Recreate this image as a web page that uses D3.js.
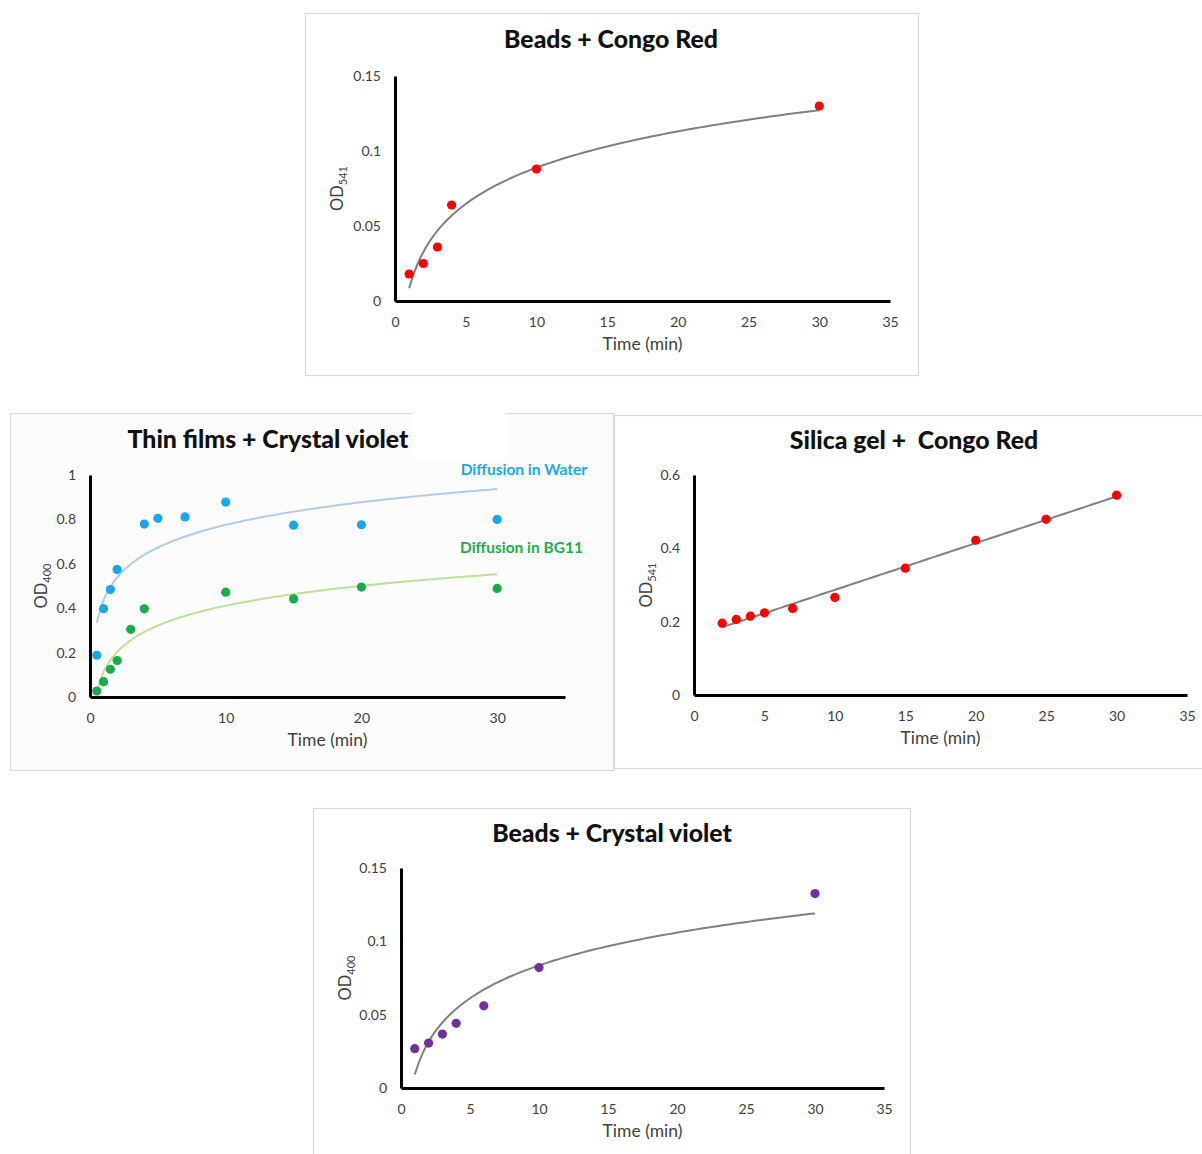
<!DOCTYPE html>
<html>
<head>
<meta charset="utf-8">
<script src="https://cdn.jsdelivr.net/npm/d3@7"></script>
<style>
  body { margin: 0; background: #fff; }
  text { font-family: Lato, "Open Sans", sans-serif; }
</style>
</head>
<body>
<svg id="chart" width="1202" height="1154"></svg>
<script>
// Beads + Congo Red
const beadsCongoTime = [1, 2, 3, 4, 10, 30];
const beadsCongoOD = [0.018, 0.025, 0.036, 0.064, 0.088, 0.130];

// Thin films + Crystal violet
const filmWaterTime = [0.5, 1, 1.5, 2, 4, 5, 7, 10, 15, 20, 30];
const filmWaterOD = [0.188, 0.398, 0.484, 0.574, 0.779, 0.805, 0.811, 0.878, 0.774, 0.776, 0.800];
const filmBg11Time = [0.5, 1, 1.5, 2, 3, 4, 10, 15, 20, 30];
const filmBg11OD = [0.027, 0.069, 0.125, 0.164, 0.305, 0.397, 0.472, 0.442, 0.495, 0.489];

// Silica gel + Congo Red
const silicaTime = [2, 3, 4, 5, 7, 10, 15, 20, 25, 30];
const silicaOD = [0.196, 0.206, 0.215, 0.224, 0.236, 0.266, 0.346, 0.422, 0.479, 0.545];

// Beads + Crystal violet
const beadsVioletTime = [1, 2, 3, 4, 6, 10, 30];
const beadsVioletOD = [0.0268, 0.0306, 0.0368, 0.0441, 0.056, 0.0821, 0.1326];

const xTicks5 = [0, 5, 10, 15, 20, 25, 30, 35];
const xTicks10 = [0, 10, 20, 30];
const yTicksBeads = [0, 0.05, 0.1, 0.15];
const yTicksFilm = [0, 0.2, 0.4, 0.6, 0.8, 1];
const yTicksSilica = [0, 0.2, 0.4, 0.6];

const svg = d3.select('#chart');

// least squares trendlines, like the spreadsheet ones
function logFit(xs, ys) {
    const lx = xs.map(Math.log);
    const mx = d3.mean(lx), my = d3.mean(ys);
    const sxy = d3.sum(lx, (v, i) => (v - mx) * (ys[i] - my));
    const sxx = d3.sum(lx, v => (v - mx) * (v - mx));
    const a = sxy / sxx, b = my - a * mx;
    return x => a * Math.log(x) + b;
}
function linFit(xs, ys) {
    const mx = d3.mean(xs), my = d3.mean(ys);
    const sxy = d3.sum(xs, (v, i) => (v - mx) * (ys[i] - my));
    const sxx = d3.sum(xs, v => (v - mx) * (v - mx));
    const a = sxy / sxx, b = my - a * mx;
    return x => a * x + b;
}

function panel(p) {
    const g = svg.append('g');
    g.append('rect')
        .attr('x', p.box[0] + 0.5).attr('y', p.box[1] + 0.5)
        .attr('width', p.box[2]).attr('height', p.box[3])
        .attr('fill', p.bg || '#fff')
        .attr('stroke', '#d9d9d9').attr('stroke-width', 1.2);

    const x = d3.scaleLinear().domain(p.xDomain).range([p.left, p.right]);
    const y = d3.scaleLinear().domain(p.yDomain).range([p.bottom, p.top]);

    g.append('text')
        .attr('x', p.titleX).attr('y', p.titleY)
        .attr('text-anchor', 'middle')
        .style('font-size', '24.8px').style('font-weight', 900).style('white-space', 'pre')
        .attr('fill', '#111')
        .text(p.title);

    // trendlines
    p.series.forEach(s => {
        const f = s.fit === 'lin' ? linFit(s.time, s.od) : logFit(s.time, s.od);
        const t0 = d3.min(s.time), t1 = d3.max(s.time);
        const pts = d3.range(0, 101).map(i => t0 + (t1 - t0) * i / 100);
        g.append('path')
            .datum(pts)
            .attr('fill', 'none')
            .attr('stroke', s.lineColor)
            .attr('stroke-width', s.lineWidth || 2)
            .attr('d', d3.line().x(d => x(d)).y(d => y(f(d))));
    });

    // axes
    const xAxis = g.append('g')
        .attr('transform', `translate(0,${p.bottom})`)
        .call(d3.axisBottom(x).tickValues(p.xTicks).tickSize(0).tickSizeOuter(0).tickPadding(16));
    const yAxis = g.append('g')
        .attr('transform', `translate(${p.left},0)`)
        .call(d3.axisLeft(y).tickValues(p.yTicks).tickSize(0).tickSizeOuter(0).tickPadding(14)
            .tickFormat(d => String(d)));
    [xAxis, yAxis].forEach(a => {
        a.select('.domain').attr('stroke', '#000').attr('stroke-width', 3);
        a.selectAll('text').style('font-size', '14px').attr('fill', '#404040')
            .style('font-family', 'Lato, sans-serif');
    });

    // points
    p.series.forEach(s => {
        g.append('g').selectAll('circle')
            .data(s.time.map((t, i) => [t, s.od[i]]))
            .join('circle')
            .attr('cx', d => x(d[0])).attr('cy', d => y(d[1]))
            .attr('r', 4.6)
            .attr('fill', s.color);
    });

    g.append('text')
        .attr('x', (p.left + p.right) / 2).attr('y', p.bottom + 49)
        .attr('text-anchor', 'middle')
        .style('font-size', '17.5px').attr('fill', '#404040')
        .text('Time (min)');

    const yl = g.append('text')
        .attr('transform', `translate(${p.yLabelX},${(p.top + p.bottom) / 2}) rotate(-90)`)
        .attr('text-anchor', 'middle')
        .style('font-size', '16.5px').attr('fill', '#404040');
    yl.append('tspan').text('OD');
    yl.append('tspan').attr('dy', 4).style('font-size', '11px').text(p.sub);

    (p.labels || []).forEach(l => {
        g.append('text')
            .attr('x', l.x).attr('y', l.y)
            .attr('text-anchor', 'end')
            .style('font-size', '15.5px').style('font-weight', 700)
            .attr('fill', l.color)
            .text(l.text);
    });
    return g;
}

panel({
    box: [305, 13, 613, 362],
    title: 'Beads + Congo Red', titleX: 611, titleY: 48,
    left: 395, right: 890, top: 76, bottom: 301,
    xDomain: [0, 35], yDomain: [0, 0.15],
    xTicks: xTicks5, yTicks: yTicksBeads,
    yLabelX: 343, sub: '541',
    series: [{time: beadsCongoTime, od: beadsCongoOD, color: '#ff0000', lineColor: '#808080'}]
});

const film = panel({
    box: [10, 413, 603, 357], bg: '#fcfcfc',
    title: 'Thin films + Crystal violet', titleX: 268, titleY: 448,
    left: 90, right: 565, top: 475, bottom: 697,
    xDomain: [0, 35], yDomain: [0, 1],
    xTicks: xTicks10, yTicks: yTicksFilm,
    yLabelX: 47, sub: '400',
    series: [
        {time: filmWaterTime, od: filmWaterOD, color: '#1aa7ea', lineColor: '#b3cbea'},
        {time: filmBg11Time, od: filmBg11OD, color: '#1aab4a', lineColor: '#bfe09a'}
    ],
    labels: [
        {text: 'Diffusion in Water', x: 587, y: 475, color: '#1ba9e6'},
        {text: 'Diffusion in BG11', x: 583, y: 553, color: '#22ad4b'}
    ]
});
// white patch over the top edge of the thin films frame
film.insert('rect', ':nth-child(2)')
    .attr('x', 413).attr('y', 410).attr('width', 93).attr('height', 50)
    .attr('fill', '#fff');

panel({
    box: [614, 415, 600, 353],
    title: 'Silica gel +  Congo Red', titleX: 914, titleY: 449,
    left: 694, right: 1187, top: 475, bottom: 695,
    xDomain: [0, 35], yDomain: [0, 0.6],
    xTicks: xTicks5, yTicks: yTicksSilica,
    yLabelX: 652, sub: '541',
    series: [{time: silicaTime, od: silicaOD, color: '#ff0000', lineColor: '#808080', fit: 'lin'}]
});

panel({
    box: [313, 808, 597, 360],
    title: 'Beads + Crystal violet', titleX: 612, titleY: 842,
    left: 401, right: 884, top: 868, bottom: 1088,
    xDomain: [0, 35], yDomain: [0, 0.15],
    xTicks: xTicks5, yTicks: yTicksBeads,
    yLabelX: 351, sub: '400',
    series: [{time: beadsVioletTime, od: beadsVioletOD, color: '#7030a0', lineColor: '#808080'}]
});
</script>
</body>
</html>
